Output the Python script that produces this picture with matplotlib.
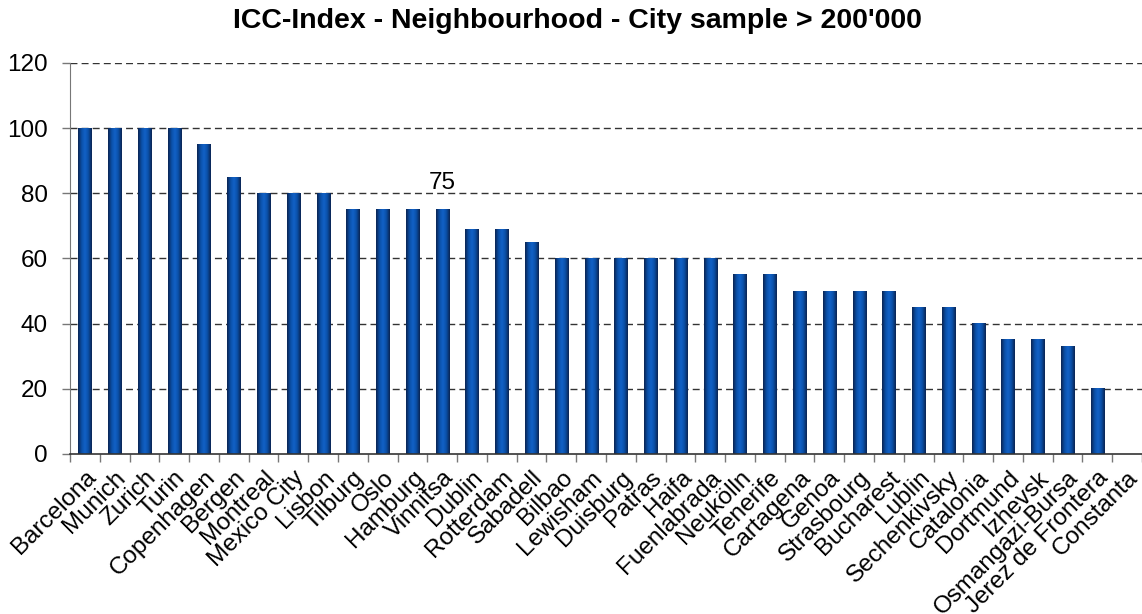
import numpy as np
import matplotlib.pyplot as plt
from matplotlib.colors import LinearSegmentedColormap

cidades = ['Barcelona', 'Munich', 'Zurich', 'Turin', 'Copenhagen', 'Bergen', 'Montreal',
           'Mexico City', 'Lisbon', 'Tilburg', 'Oslo', 'Hamburg', 'Vinnitsa', 'Dublin',
           'Rotterdam', 'Sabadell', 'Bilbao', 'Lewisham', 'Duisburg', 'Patras', 'Haifa',
           'Fuenlabrada', 'Neukölln', 'Tenerife', 'Cartagena', 'Genoa', 'Strasbourg',
           'Bucharest', 'Lublin', 'Sechenkivsky', 'Catalonia', 'Dortmund', 'Izhevsk',
           'Osmangazi-Bursa', 'Jerez de Frontera', 'Constanta']
valores = [100, 100, 100, 100, 95, 85, 80, 80, 80, 75, 75, 75, 75, 69, 69, 65, 60, 60,
           60, 60, 60, 60, 55, 55, 50, 50, 50, 50, 45, 45, 40, 35, 35, 33, 20, 0]
rotulo_cidade = 'Vinnitsa'
yticks = [0, 20, 40, 60, 80, 100, 120]

plt.rcParams['font.family'] = ['Liberation Sans', 'DejaVu Sans']

fig = plt.figure(figsize=(11.42, 6.14), dpi=100)
ax = fig.add_axes([0.0613, 0.2606, 0.9387, 0.6368])

x = np.arange(len(cidades))
largura = 0.44

# barras com degrade horizontal (azul escuro nas bordas, claro no meio)
cmap = LinearSegmentedColormap.from_list('barra', ['#0b2350', '#0a4fa6', '#1262c8', '#0a4fa6', '#0b2350'])
grad = np.linspace(0, 1, 64).reshape(1, -1)
for xi, v in zip(x, valores):
    if v <= 0:
        continue
    ax.imshow(grad, cmap=cmap, aspect='auto', interpolation='bicubic',
              extent=(xi - largura / 2, xi + largura / 2, 0, v), zorder=3)

ax.set_xlim(-0.5, len(cidades) - 0.5)
ax.set_ylim(0, 120)

# grade tracejada
for yv in yticks[1:]:
    ax.axhline(yv, color='#333333', lw=1, dashes=(5, 3), zorder=1)

ax.set_yticks(yticks)
ax.set_yticklabels([str(t) for t in yticks], fontsize=17.5)
ax.tick_params(axis='y', length=6, width=1, color='#777777', pad=10)

ax.set_xticks(x)
ax.set_xticklabels(cidades, rotation=45, ha='right', rotation_mode='anchor', fontsize=17.5)
ax.tick_params(axis='x', which='major', length=0, pad=9)
ax.set_xticks(np.arange(len(cidades) + 1) - 0.5, minor=True)
ax.tick_params(axis='x', which='minor', length=5.5, width=1, color='#777777')

for s in ['top', 'right']:
    ax.spines[s].set_visible(False)
ax.spines['left'].set_color('#777777')
ax.spines['bottom'].set_color('#333333')
ax.spines['bottom'].set_linewidth(1.2)
ax.spines['bottom'].set_zorder(4)

# rotulo do valor
i = cidades.index(rotulo_cidade)
ax.annotate(str(valores[i]), (x[i], valores[i]), xytext=(0, 15), textcoords='offset points',
            ha='center', va='baseline', fontsize=17.5)

fig.text(0.506, 1 - 28 / 614, "ICC-Index - Neighbourhood - City sample > 200'000",
         fontsize=20.5, fontweight='bold', ha='center', va='baseline')

fig.savefig('out.png', dpi=100)
